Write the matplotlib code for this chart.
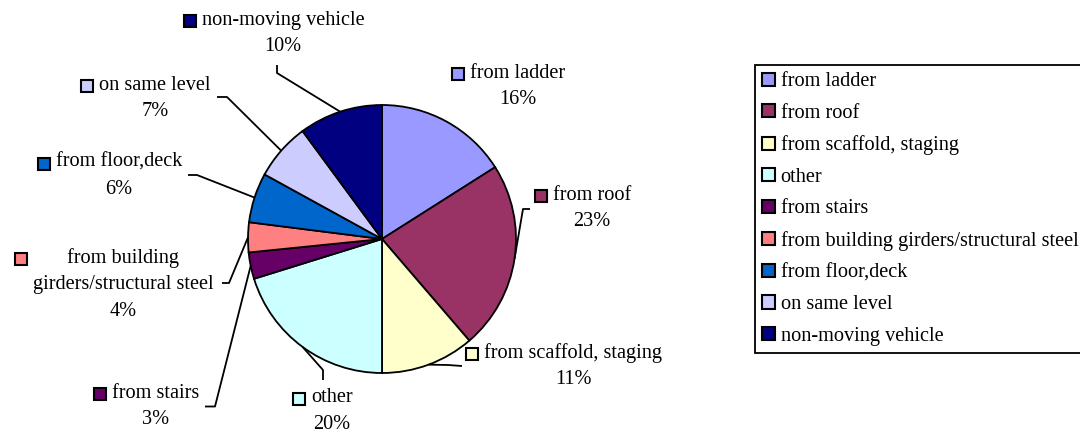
import matplotlib
matplotlib.use("Agg")
import matplotlib.pyplot as plt
from matplotlib.patches import Rectangle, Patch
import numpy as np

plt.rcParams['font.family'] = ['Liberation Serif', 'DejaVu Serif']

# ---- data ----
categories = ["from ladder", "from roof", "from scaffold, staging", "other",
              "from stairs", "from building girders/structural steel",
              "from floor,deck", "on same level", "non-moving vehicle"]
label_texts = ["from ladder", "from roof", "from scaffold, staging", "other",
               "from stairs", "from building\ngirders/structural steel",
               "from floor,deck", "on same level", "non-moving vehicle"]
values = [16.0, 22.7, 11.3, 20.2, 3.2, 3.6, 6.0, 6.9, 10.1]
colors = ["#9999FF", "#993366", "#FFFFCC", "#CCFFFF", "#660066",
          "#FF8080", "#0066CC", "#CCCCFF", "#000080"]

# ---- layout (pixel coordinates, y downward) ----
W, H = 1080, 434
CENTER = (382, 239)
RADIUS = 134
# label text centre x, first-line centre y
label_pos = [(518, 73), (592, 195), (573, 353), (332, 398), (156, 393),
             (123, 258), (119, 162.5), (155, 85), (283, 20)]
# leader-line points on the label side (None = no leader)
leaders = [None,
           [(530, 209), (523, 209)],
           [(462, 366), (448, 365)],
           [(323, 380), (323, 370)],
           [(205, 406.5), (215, 406.5)],
           [(222, 283), (229, 283)],
           [(188, 175), (197, 175)],
           [(217, 97), (227, 97)],
           [(277, 65), (277, 73)]]
STEP = 26.7
FS = 14.6

fig = plt.figure(figsize=(W / 100, H / 100), dpi=100)
ax = fig.add_axes([0, 0, 1, 1])

wedges, _ = ax.pie(values, colors=colors, startangle=-90, counterclock=True,
                   center=CENTER, radius=RADIUS,
                   wedgeprops=dict(edgecolor="black", linewidth=1.3))
ax.set_xlim(0, W)
ax.set_ylim(H, 0)
ax.set_aspect('equal')
ax.axis('off')

total = sum(values)
fig.canvas.draw()
renderer = fig.canvas.get_renderer()
inv = ax.transData.inverted()

for i, (w, txt) in enumerate(zip(wedges, label_texts)):
    cx, y1 = label_pos[i]
    lines = txt.split("\n")
    lefts = []
    for k, line in enumerate(lines):
        t = ax.text(cx, y1 + k * STEP, line, ha='center', va='center',
                    fontsize=FS, color='black')
        bb = t.get_window_extent(renderer)
        lefts.append(inv.transform((bb.x0, bb.y0))[0])
    pct = int(values[i] / total * 100 + 0.5)
    ax.text(cx, y1 + len(lines) * STEP, f"{pct}%", ha='center', va='center',
            fontsize=FS, color='black')
    left = min(lefts)
    sz = 12
    ax.add_patch(Rectangle((left - 6 - sz, y1 - sz / 2 + 1), sz, sz,
                           facecolor=colors[i], edgecolor='black',
                           linewidth=1.5, zorder=5))
    if leaders[i] is not None:
        th = np.deg2rad((w.theta1 + w.theta2) / 2)
        ex = CENTER[0] + RADIUS * np.cos(th)
        ey = CENTER[1] + RADIUS * np.sin(th)
        pts = leaders[i] + [(ex, ey)]
        xs, ys = zip(*pts)
        ax.plot(xs, ys, color='black', linewidth=1.3, solid_capstyle='butt',
                zorder=1)

handles = [Patch(facecolor=c, edgecolor='black', linewidth=1.5) for c in colors]
leg = ax.legend(handles, categories, loc='upper left',
                bbox_to_anchor=(755 / W, 1 - 65 / H), bbox_transform=fig.transFigure,
                fontsize=FS, handlelength=0.62, handleheight=0.62,
                handletextpad=0.28, labelspacing=0.62, borderpad=0.36,
                borderaxespad=0, frameon=True, fancybox=False, shadow=False)
fr = leg.get_frame()
fr.set_edgecolor('black')
fr.set_linewidth(1.3)
fr.set_alpha(1)

fig.savefig("out.png", dpi=100)
